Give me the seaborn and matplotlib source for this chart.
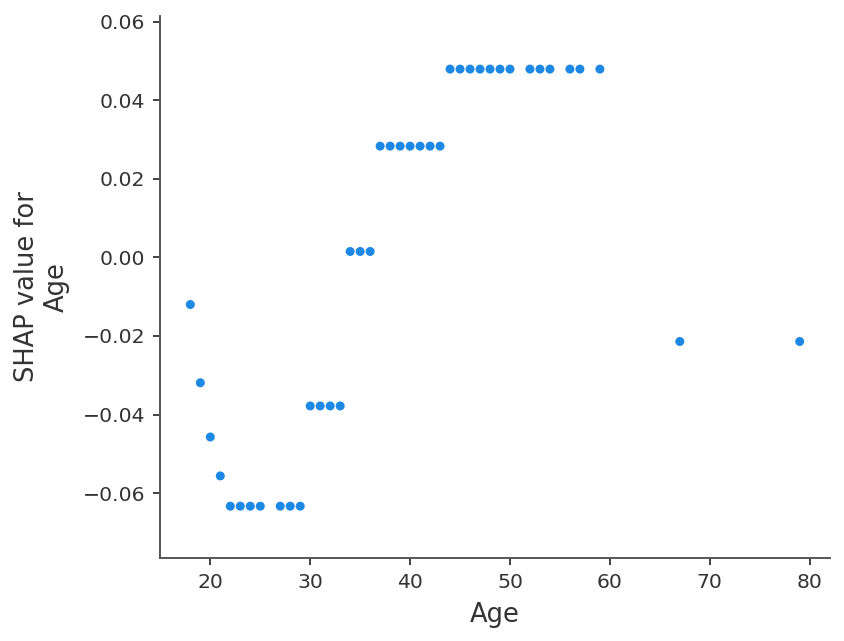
import matplotlib
matplotlib.use("Agg")
import matplotlib.pyplot as plt
import seaborn as sns
import pandas as pd

ages = [18, 19, 20, 21, 22, 23, 24, 25, 27, 28, 29,
        30, 31, 32, 33, 34, 35, 36,
        37, 38, 39, 40, 41, 42, 43,
        44, 45, 46, 47, 48, 49, 50, 52, 53, 54, 56, 57, 59,
        67, 79]
shap_vals = [-0.0120, -0.0319, -0.0457, -0.0556,
             -0.0633, -0.0633, -0.0633, -0.0633, -0.0633, -0.0633, -0.0633,
             -0.0378, -0.0378, -0.0378, -0.0378,
             0.0015, 0.0015, 0.0015,
             0.0283, 0.0283, 0.0283, 0.0283, 0.0283, 0.0283, 0.0283,
             0.0479, 0.0479, 0.0479, 0.0479, 0.0479, 0.0479, 0.0479,
             0.0479, 0.0479, 0.0479, 0.0479, 0.0479, 0.0479,
             -0.0214, -0.0214]

df = pd.DataFrame({"Age": ages, "SHAP": shap_vals})

sns.set_style("ticks")
plt.rcParams['font.family'] = ['DejaVu Sans']

fig, ax = plt.subplots(figsize=(8.44, 6.41), dpi=100)
sns.scatterplot(data=df, x="Age", y="SHAP", ax=ax, color="#1E88E5",
                s=42, linewidth=0, edgecolor="none")

ax.set_xlim(15, 82)
ax.set_ylim(-0.0764, 0.0614)
ax.set_xticks([20, 30, 40, 50, 60, 70, 80])
ax.set_yticks([-0.06, -0.04, -0.02, 0.00, 0.02, 0.04, 0.06])
ax.set_yticklabels(["\u22120.06", "\u22120.04", "\u22120.02", "0.00", "0.02", "0.04", "0.06"])
ax.set_xlabel("Age", fontsize=18.5, color="#333333", labelpad=7)
ax.set_ylabel("SHAP value for\nAge", fontsize=18.5, color="#333333", labelpad=9)
ax.tick_params(axis="both", labelsize=14.7, colors="#333333", direction="out",
               length=5, width=1.3, pad=6)
for s in ["top", "right"]:
    ax.spines[s].set_visible(False)
for s in ["left", "bottom"]:
    ax.spines[s].set_color("#555555")
    ax.spines[s].set_linewidth(1.4)

fig.subplots_adjust(left=0.19, right=0.983, top=0.975, bottom=0.13)
fig.savefig("out.png", dpi=100)
